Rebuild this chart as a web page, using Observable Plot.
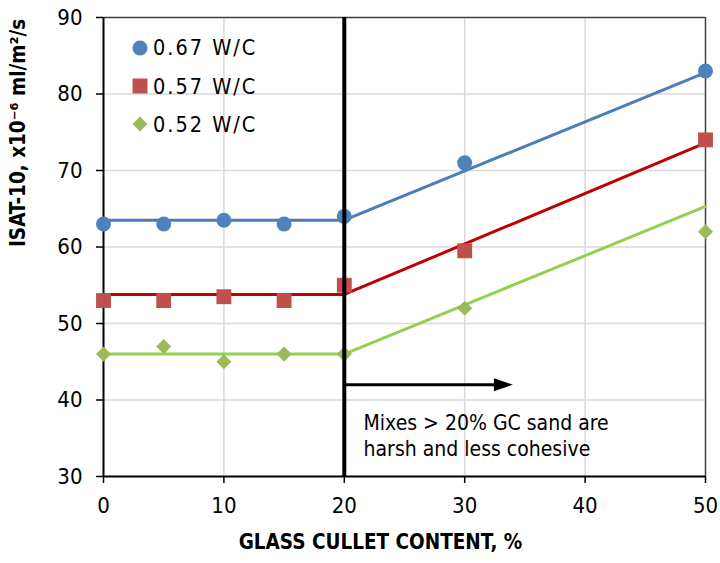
<!DOCTYPE html>
<html>
<head>
<meta charset="utf-8">
<script src="https://cdn.jsdelivr.net/npm/d3@7"></script>
<script src="https://cdn.jsdelivr.net/npm/@observablehq/plot@0.6"></script>
<style>
  html, body { margin: 0; padding: 0; background: white; }
  #wrap { position: relative; width: 720px; height: 563px; font-family: "DejaVu Sans Condensed", "DejaVu Sans", sans-serif; }
  .leg { position: absolute; left: 131px; display: flex; align-items: center; font-size: 21.5px; letter-spacing: 2px; color: #000; height: 20px; }
  .leg svg { margin-right: 4px; }
</style>
</head>
<body>
<div id="wrap"></div>
<script>
// ---- data ----
const gcContent = [0, 5, 10, 15, 20, 30, 50];
const wc067 = [63, 63, 63.5, 63, 64, 71, 83];
const wc057 = [53, 53, 53.5, 53, 55, 59.5, 74];
const wc052 = [46, 47, 45, 46, 46, 52, 62];
const trendX = [0, 20, 50];
const trend067 = [63.5, 63.5, 82.8];
const trend057 = [53.8, 53.8, 73.6];
const trend052 = [46, 46, 65.3];
const xTicks = [0, 10, 20, 30, 40, 50];
const yTicks = [30, 40, 50, 60, 70, 80, 90];
const seriesNames = ["0.67 W/C", "0.57 W/C", "0.52 W/C"];
const limitX = [20];
const arrowX = [20, 34];
const arrowY = [42, 42];
const noteX = [21.6];
const noteY = [38.4];
const noteText = ["Mixes > 20% GC sand are\nharsh and less cohesive"];
const xLabel = "GLASS CULLET CONTENT, %";
const yLabel = "ISAT-10, x10\u207B\u2076 ml/m\u00B2/s";

const font = "'DejaVu Sans Condensed', 'DejaVu Sans', sans-serif";
const pts = (ys) => gcContent.map((x, i) => ({x, y: ys[i]}));
const tr = (ys) => trendX.map((x, i) => ({x, y: ys[i]}));

const arrowHead = {
  draw(ctx) {
    ctx.moveTo(0, 0);
    ctx.lineTo(-19, -6.5);
    ctx.lineTo(-19, 6.5);
    ctx.closePath();
  }
};

const chart = Plot.plot({
  width: 720,
  height: 563,
  marginLeft: 103,
  marginRight: 15,
  marginTop: 17,
  marginBottom: 87,
  x: {domain: [0, 50]},
  y: {domain: [30, 90]},
  style: {fontFamily: font, fontSize: "22px", color: "black", background: "white", overflow: "visible"},
  marks: [
    Plot.gridX(xTicks.slice(1, -1), {stroke: "#d9d9d9", strokeOpacity: 1, strokeWidth: 1.5}),
    Plot.gridY(yTicks.slice(1, -1), {stroke: "#d9d9d9", strokeOpacity: 1, strokeWidth: 1.5}),
    Plot.ruleY([90], {stroke: "#404040", strokeWidth: 1.5}),
    Plot.ruleX([50], {stroke: "#404040", strokeWidth: 1.5}),
    Plot.axisX({ticks: xTicks, tickSize: 7, tickPadding: 14, label: null, fontSize: 22, strokeWidth: 1.5}),
    Plot.axisY({ticks: yTicks, tickSize: 7, tickPadding: 14, label: null, fontSize: 22, strokeWidth: 1.5}),
    Plot.ruleX([0], {stroke: "black", strokeWidth: 2}),
    Plot.ruleY([30], {stroke: "black", strokeWidth: 2}),
    Plot.line(tr(trend067), {x: "x", y: "y", stroke: "#4a7ebb", strokeWidth: 3}),
    Plot.line(tr(trend057), {x: "x", y: "y", stroke: "#c00000", strokeWidth: 3}),
    Plot.line(tr(trend052), {x: "x", y: "y", stroke: "#92d050", strokeWidth: 3}),
    Plot.dot(pts(wc067), {x: "x", y: "y", symbol: "circle", r: 7.5, fill: "#4f81bd", stroke: "none"}),
    Plot.dot(pts(wc057), {x: "x", y: "y", symbol: "square", r: 8.4, fill: "#c0504d", stroke: "none"}),
    Plot.dot(pts(wc052), {x: "x", y: "y", symbol: "diamond2", r: 6.8, fill: "#9bbb59", stroke: "none"}),
    Plot.ruleX(limitX, {stroke: "black", strokeWidth: 4}),
    Plot.link([0], {x1: () => arrowX[0], x2: () => arrowX[1] - 1.2, y1: () => arrowY[0], y2: () => arrowY[1], stroke: "black", strokeWidth: 3}),
    Plot.dot([0], {x: () => arrowX[1], y: () => arrowY[1], symbol: arrowHead, fill: "black", stroke: "none"}),
    Plot.text(noteText, {x: () => noteX[0], y: () => noteY[0], textAnchor: "start", lineAnchor: "top", lineHeight: 1.22, fontSize: 21, fill: "black"}),
    Plot.text([yLabel], {frameAnchor: "left", dx: -85, rotate: -90, fontWeight: "bold", fontSize: 20.5, fill: "black"}),
    Plot.text([xLabel], {frameAnchor: "bottom", dx: -24, dy: 72, fontWeight: "bold", fontSize: 20.5, fill: "black"})
  ]
});

const wrap = document.getElementById("wrap");
wrap.appendChild(chart);

// legend
const legendDefs = [
  {name: seriesNames[0], top: 47.7, svg: '<circle cx="9" cy="9" r="7.5" fill="#4f81bd"/>'},
  {name: seriesNames[1], top: 86, svg: '<rect x="1.5" y="1.5" width="15" height="15" fill="#c0504d"/>'},
  {name: seriesNames[2], top: 124, svg: '<path d="M9,1.5 L16.5,9 L9,16.5 L1.5,9 Z" fill="#9bbb59"/>'}
];
for (const d of legendDefs) {
  const div = document.createElement("div");
  div.className = "leg";
  div.style.top = (d.top - 10) + "px";
  div.innerHTML = `<svg width="18" height="18" viewBox="0 0 18 18">${d.svg}</svg><span>${d.name}</span>`;
  wrap.appendChild(div);
}
</script>
</body>
</html>
